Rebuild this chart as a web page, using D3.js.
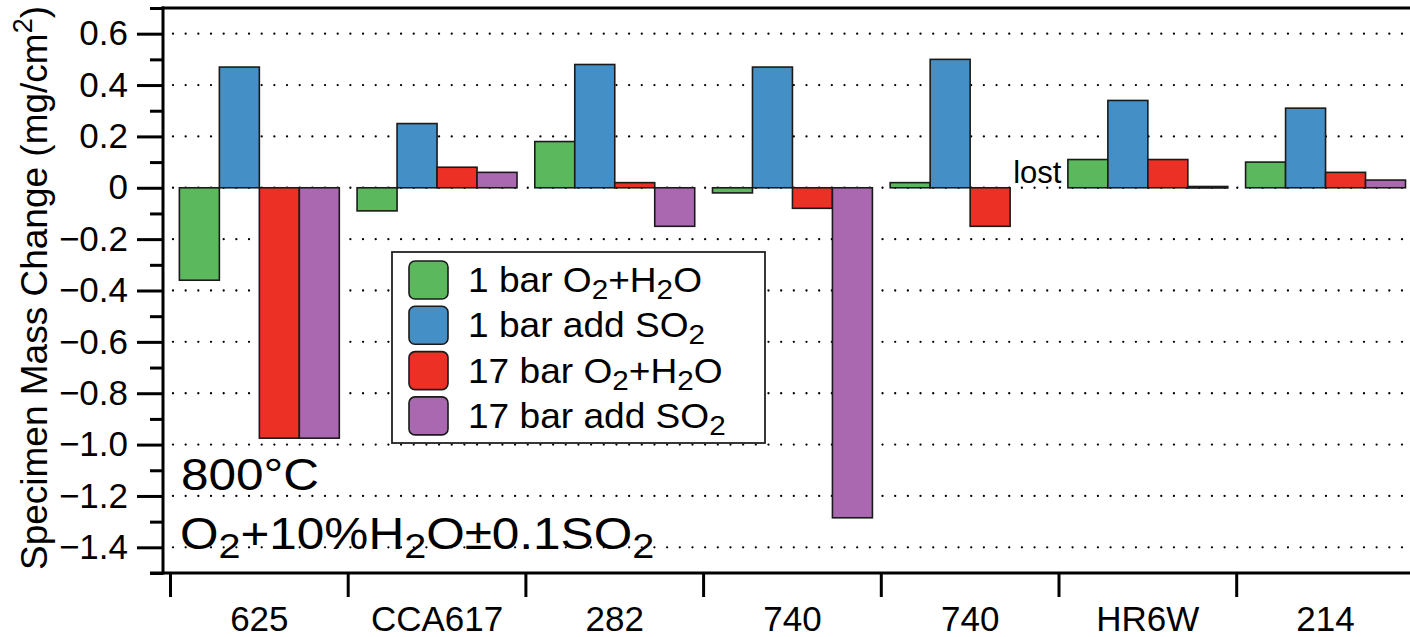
<!DOCTYPE html>
<html>
<head>
<meta charset="utf-8">
<script src="https://cdn.jsdelivr.net/npm/d3@7"></script>
<style>
  html, body { margin: 0; padding: 0; background: #fff; }
  svg { display: block; font-family: "Liberation Sans", Arial, Helvetica, sans-serif; }
</style>
</head>
<body>
<svg id="chart" width="1410" height="637"></svg>
<script>
// ---- data ----
const categories = ["625", "CCA617", "282", "740", "740", "HR6W", "214"];
const seriesLabels = ["1 bar O_2+H_2O", "1 bar add SO_2", "17 bar O_2+H_2O", "17 bar add SO_2"];
const seriesColors = ["#5cb85c", "#4490c6", "#ec3026", "#a968b0"];
const bar1_O2H2O  = [-0.36, -0.09, 0.18, -0.02, 0.02, 0.11, 0.10];
const bar1_SO2    = [0.47, 0.25, 0.48, 0.47, 0.50, 0.34, 0.31];
const bar17_O2H2O = [-0.975, 0.08, 0.02, -0.08, -0.15, 0.11, 0.06];
const bar17_SO2   = [-0.975, 0.06, -0.15, -1.285, null, 0.005, 0.03];
const seriesValues = [bar1_O2H2O, bar1_SO2, bar17_O2H2O, bar17_SO2];
const majorTicks = [0.6, 0.4, 0.2, 0, -0.2, -0.4, -0.6, -0.8, -1.0, -1.2, -1.4];
const tickLabels = ["0.6", "0.4", "0.2", "0", "\u22120.2", "\u22120.4", "\u22120.6", "\u22120.8", "\u22121.0", "\u22121.2", "\u22121.4"];
const minorTicks = [0.7, 0.5, 0.3, 0.1, -0.1, -0.3, -0.5, -0.7, -0.9, -1.1, -1.3, -1.5];
const lostNote = { group: 4, series: 3, text: "lost" };
const yTitle = ["Specimen Mass Change (mg/cm", "2", ")"];
const annoLine1 = "800\u00B0C";
const annoLine2 = "O_2+10%H_2O\u00B10.1SO_2";

// ---- layout ----
const svg = d3.select("#chart");
const axisX = 163, bottomY = 573, topY = 8;
const y = d3.scaleLinear().domain([-1.5, 0.7]).range([bottomY, topY]);
const x0 = d3.scaleBand().domain(d3.range(categories.length)).range([170.5, 170.5 + 7 * 177.7]).padding(0);
const x1 = d3.scaleBand().domain(d3.range(4)).range([x0.bandwidth() * 0.05, x0.bandwidth() * 0.95]).padding(0);

// helper: write text with "_2" subscripts
function richText(sel, str, size, subScale) {
  const parts = str.split(/(_\d)/).filter(p => p);
  const shift = size * 0.2;
  let pending = 0;
  parts.forEach(p => {
    if (p[0] === "_") {
      sel.append("tspan").attr("font-size", size * subScale).attr("dy", shift + pending).text(p.slice(1));
      pending = -shift;
    } else {
      const t = sel.append("tspan").text(p);
      if (pending) t.attr("dy", pending);
      pending = 0;
    }
  });
}

// gridlines (dotted)
svg.append("g").selectAll("line").data(majorTicks).join("line")
  .attr("x1", 173).attr("x2", 1420)
  .attr("y1", d => y(d)).attr("y2", d => y(d))
  .attr("stroke", "#000").attr("stroke-width", 2.3)
  .attr("stroke-linecap", "round").attr("stroke-dasharray", "0,12.67");

// annotation text
const anno = svg.append("g").attr("fill", "#000").attr("transform", "translate(181,0) scale(1.1,1)");
anno.append("text").attr("x", 0).attr("y", 490).attr("font-size", 45).text(annoLine1);
richText(anno.append("text").attr("x", -1).attr("y", 549).attr("font-size", 45), annoLine2, 45, 0.8);

// bars
const groups = svg.append("g").selectAll("g").data(categories).join("g")
  .attr("transform", (d, i) => `translate(${x0(i)},0)`);
groups.selectAll("rect")
  .data((d, i) => seriesValues.map((vals, s) => ({ s, v: vals[i] })).filter(e => e.v !== null))
  .join("rect")
  .attr("x", e => x1(e.s))
  .attr("width", x1.bandwidth())
  .attr("y", e => y(Math.max(0, e.v)))
  .attr("height", e => Math.max(1.5, Math.abs(y(e.v) - y(0))))
  .attr("fill", e => seriesColors[e.s])
  .attr("stroke", "#1a1a1a").attr("stroke-width", 1.6);

// "lost" note
svg.append("text")
  .attr("x", x0(lostNote.group) + x1(lostNote.series) + 3)
  .attr("y", y(0) - 5)
  .attr("font-size", 31).text(lostNote.text);

// y axis: major ticks with labels
const yAxisMajor = d3.axisLeft(y).tickValues(majorTicks).tickFormat((d, i) => tickLabels[i])
  .tickSize(26).tickSizeOuter(0).tickPadding(9);
const gy = svg.append("g").attr("transform", `translate(${axisX},0)`).call(yAxisMajor);
gy.select(".domain").remove();
gy.selectAll("line").attr("stroke", "#000").attr("stroke-width", 3);
gy.selectAll("text").attr("font-size", 35).attr("fill", "#000")
  .attr("font-family", "'Liberation Sans', Arial, Helvetica, sans-serif");

// y axis: minor ticks
const yAxisMinor = d3.axisLeft(y).tickValues(minorTicks).tickFormat("").tickSize(13).tickSizeOuter(0);
const gym = svg.append("g").attr("transform", `translate(${axisX},0)`).call(yAxisMinor);
gym.select(".domain").remove();
gym.selectAll("line").attr("stroke", "#000").attr("stroke-width", 3);

// frame lines: left axis, top, bottom
svg.append("line").attr("x1", axisX).attr("x2", axisX).attr("y1", topY - 1.5).attr("y2", bottomY + 1.5)
  .attr("stroke", "#000").attr("stroke-width", 3);
svg.append("line").attr("x1", axisX - 1.5).attr("x2", 1420).attr("y1", topY).attr("y2", topY)
  .attr("stroke", "#000").attr("stroke-width", 3);
svg.append("line").attr("x1", 150).attr("x2", 1420).attr("y1", bottomY).attr("y2", bottomY)
  .attr("stroke", "#000").attr("stroke-width", 3);

// x axis: boundary ticks + labels
const boundaries = d3.range(categories.length + 1).map(i => x0.range()[0] + i * x0.step());
svg.append("g").selectAll("line").data(boundaries).join("line")
  .attr("x1", d => d).attr("x2", d => d).attr("y1", bottomY).attr("y2", bottomY + 24)
  .attr("stroke", "#000").attr("stroke-width", 3);
const xAxis = d3.axisBottom(x0).tickFormat(i => categories[i]).tickSize(0).tickSizeOuter(0).tickPadding(33);
const gx = svg.append("g").attr("transform", `translate(0,${bottomY})`).call(xAxis);
gx.select(".domain").remove();
gx.selectAll("text").attr("font-size", 35).attr("fill", "#000")
  .attr("font-family", "'Liberation Sans', Arial, Helvetica, sans-serif");

// y axis title
const title = svg.append("text")
  .attr("transform", "translate(47,288) rotate(-90)")
  .attr("text-anchor", "middle").attr("font-size", 37).attr("fill", "#000");
title.append("tspan").text(yTitle[0]);
title.append("tspan").attr("font-size", 27).attr("dy", -15).text(yTitle[1]);
title.append("tspan").attr("dy", 15).text(yTitle[2]);

// legend
const legend = svg.append("g");
legend.append("rect").attr("x", 392).attr("y", 252).attr("width", 373).attr("height", 191)
  .attr("fill", "#fff").attr("stroke", "#222").attr("stroke-width", 1.8);
const rows = legend.selectAll("g.row").data(seriesLabels).join("g").attr("class", "row")
  .attr("transform", (d, i) => `translate(0,${261 + i * 45.3})`);
rows.append("rect").attr("x", 409).attr("y", 0).attr("width", 39).attr("height", 38)
  .attr("rx", 6).attr("fill", (d, i) => seriesColors[i]).attr("stroke", "#1a1a1a").attr("stroke-width", 1.6);
rows.each(function (d) {
  const t = d3.select(this).append("g").attr("transform", "translate(468,0) scale(1.06,1)")
    .append("text").attr("x", 0).attr("y", 31).attr("font-size", 35).attr("fill", "#000");
  richText(t, d, 35, 0.8);
});
</script>
</body>
</html>
